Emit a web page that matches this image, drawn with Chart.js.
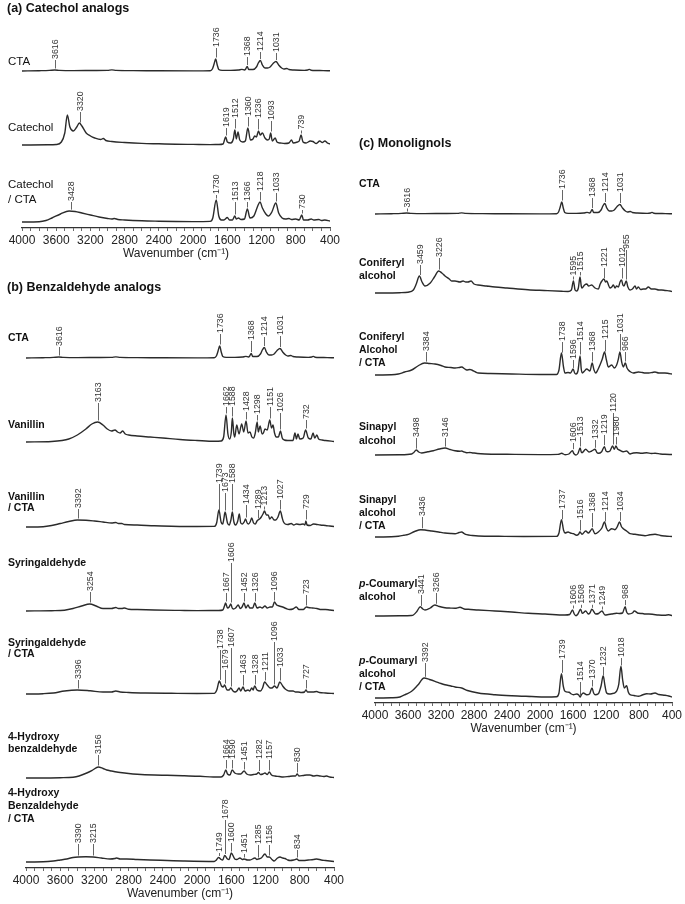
<!DOCTYPE html>
<html>
<head>
<meta charset="utf-8">
<script src="https://cdn.jsdelivr.net/npm/chart.js@4.4.1/dist/chart.umd.min.js"></script>
<style>
  html, body { margin: 0; padding: 0; background: #fff; }
  body { position: relative; width: 685px; height: 904px; overflow: hidden; }
  canvas { position: absolute; }
</style>
</head>
<body>
<canvas id="panelA" width="345" height="262" style="left:0;top:0"></canvas>
<canvas id="panelB" width="345" height="640" style="left:0;top:262px"></canvas>
<canvas id="panelC" width="340" height="612" style="left:345px;top:125px"></canvas>
<script>
// FTIR spectra, [wavenumber, absorbance above own baseline]
const wavenumberTicks = [4000, 3600, 3200, 2800, 2400, 2000, 1600, 1200, 800, 400];

const cta = [[4000,0],[3800,0.3],[3680,0.6],[3616,1],[3560,0.6],[3400,0.4],[3150,0.5],[3000,0.6],[2950,1.1],[2900,0.6],[2700,0.4],[2400,0.2],[2000,0.1],[1800,0.3],[1775,2],[1755,7],[1736,12],[1718,6],[1700,1.5],[1660,0.6],[1560,0.6],[1470,1],[1430,1.6],[1400,1],[1385,2],[1368,4.5],[1350,1.5],[1300,1.5],[1260,4],[1238,8],[1214,10.5],[1190,6],[1160,3],[1130,3],[1100,4],[1065,7.5],[1031,9.5],[1000,6],[965,3],[940,2],[905,2.5],[880,1.5],[820,1],[700,0.6],[660,1],[640,1.6],[620,0.8],[560,0.5],[480,0.4],[400,0.2]];
const ctaPeaks = [3616, 1736, 1368, 1214, 1031];

const catechol = [[4000,0],[3700,0.2],[3600,0.5],[3540,3],[3500,12],[3470,30],[3440,18],[3400,14],[3360,18],[3330,22],[3300,19],[3250,12],[3200,9],[3150,7],[3080,5.5],[3050,6.5],[3020,4.5],[2950,3.5],[2800,2.5],[2600,1.6],[2400,1.2],[2200,0.8],[2000,0.6],[1800,0.4],[1700,0.5],[1650,1],[1619,8],[1600,3],[1560,2],[1530,6],[1512,15],[1495,6],[1475,13],[1455,5],[1420,3],[1390,4],[1360,17],[1330,5],[1300,6],[1280,9],[1260,8],[1236,14],[1215,10],[1190,12],[1160,7],[1130,5],[1110,6],[1093,12],[1075,4],[1040,7],[1020,3],[980,2],[930,1.5],[880,2],[850,5],[830,2],[780,3],[760,4],[739,10],[715,3],[680,2],[630,4],[600,3.5],[560,1.5],[520,4],[490,2.5],[460,4],[430,2],[400,1]];
const catecholPeaks = [3320, 1619, 1512, 1360, 1236, 1093, 739];

const catecholCta = [[4000,0],[3800,0.3],[3720,1.5],[3650,4],[3550,8],[3450,11],[3380,10.5],[3300,9],[3200,7],[3100,5],[3000,3.5],[2950,3],[2920,3.5],[2880,2.5],[2800,2],[2600,1.2],[2400,0.8],[2200,0.5],[2000,0.4],[1800,0.6],[1770,4],[1730,22],[1700,6],[1670,2],[1640,2],[1600,4.5],[1575,2],[1540,2],[1513,6],[1495,3],[1470,4],[1440,2.5],[1400,3],[1366,13],[1335,4],[1290,6],[1240,17],[1218,20],[1190,14],[1150,8],[1120,6],[1080,10],[1033,19],[1000,9],[960,4],[920,3],[880,3.5],[850,2.5],[800,3],[760,2],[730,7],[710,2],[660,2],[620,3],[590,2],[530,2.5],[500,1.5],[460,2],[400,1]];
const catecholCtaPeaks = [3428, 1730, 1513, 1366, 1218, 1033, 730];

const vanillin = [[4000,0],[3700,0.5],[3580,1.5],[3500,3],[3400,7],[3300,13],[3230,18],[3163,20],[3100,17],[3050,13],[3000,11],[2960,12],[2930,10],[2900,9],[2870,11],[2840,8],[2800,7],[2700,6],[2550,5],[2400,4],[2200,2.5],[2000,1.5],[1800,0.7],[1720,1],[1690,5],[1662,27],[1640,8],[1620,3],[1600,10],[1588,24],[1570,8],[1560,5],[1537,17],[1510,8],[1479,18],[1455,10],[1428,21],[1405,9],[1382,10],[1360,5],[1340,4],[1320,9],[1298,20],[1285,10],[1264,16],[1240,8],[1225,9],[1207,13],[1180,12],[1151,22],[1130,14],[1113,17],[1095,9],[1075,5],[1050,5],[1026,11],[1005,4],[980,2],[940,1.5],[880,1.5],[856,9],[840,3],[821,8],[800,3],[760,4],[732,12],[700,4],[670,3],[645,9],[625,4],[600,7],[580,3],[540,2],[500,1.5],[400,0.5]];
const vanillinPeaks = [3163, 1662, 1588, 1428, 1298, 1151, 1026, 732];

const vanillinCta = [[4000,0],[3800,0.3],[3700,1.5],[3600,3.5],[3500,5.5],[3400,7],[3300,6.8],[3200,6],[3100,5],[3000,4],[2950,4.5],[2920,3.5],[2880,3.5],[2850,2.5],[2700,2],[2500,1.2],[2300,0.8],[2000,0.5],[1800,0.6],[1772,4],[1745,17],[1720,5],[1700,3],[1688,8],[1673,15],[1645,4],[1625,2],[1605,7],[1588,15],[1570,5],[1550,2],[1525,6],[1507,13],[1490,4],[1470,3],[1450,5],[1434,8],[1415,4],[1400,3],[1380,5],[1362,9],[1340,4],[1320,3],[1300,6],[1289,7],[1270,8],[1250,10],[1230,13],[1213,16],[1190,12],[1170,12],[1150,8],[1128,10],[1100,7],[1080,7],[1055,10],[1027,16],[1005,9],[990,5],[970,3],[940,2.5],[900,3.5],[870,2],[840,3],[800,2.5],[760,3],[740,2],[729,6],[715,2],[680,1.5],[640,3],[600,2.5],[560,2],[500,1.5],[450,1],[400,0.5]];
const vanillinCtaPeaks = [3392, 1739, 1673, 1588, 1434, 1289, 1213, 1027, 729];

const syringaldehyde = [[4000,0],[3700,0.3],[3550,0.8],[3450,2.5],[3350,5],[3254,7],[3180,5],[3100,2.5],[3000,2.5],[2950,3.5],[2920,2.5],[2880,2.5],[2850,3],[2800,1.8],[2700,1.5],[2500,1],[2200,0.6],[2000,0.4],[1750,0.5],[1700,1],[1680,5],[1667,8],[1645,3],[1625,4],[1606,7],[1590,3],[1575,2],[1550,3],[1520,6],[1495,2.5],[1475,4],[1452,8],[1430,3],[1405,6],[1385,3],[1350,3],[1326,8],[1300,3],[1265,4],[1240,3],[1207,5],[1180,3],[1148,4],[1120,4],[1096,9],[1070,6],[1040,5],[1000,4],[960,2.5],[920,1.5],[880,2],[840,4],[810,1.5],[760,1.5],[723,4],[700,3.5],[650,3],[600,2.5],[550,1.5],[500,1.5],[450,1],[400,0.5]];
const syringaldehydePeaks = [3254, 1667, 1606, 1452, 1326, 1096, 723];

const syringaldehydeCta = [[4000,0],[3800,0.3],[3680,1],[3550,3],[3400,4],[3250,3.2],[3100,2],[3000,2],[2950,3],[2900,2],[2800,1.5],[2600,1],[2300,0.7],[2000,0.5],[1800,0.6],[1770,4],[1740,13],[1715,8],[1694,7],[1679,9],[1650,4],[1625,4],[1607,6],[1580,3],[1557,2],[1535,3],[1510,6],[1490,3],[1463,7],[1440,3],[1405,4],[1385,3],[1362,6],[1345,4],[1328,8],[1300,4],[1260,3],[1235,6],[1211,12],[1180,9],[1148,6],[1125,6],[1096,8],[1066,6],[1033,12],[1000,8],[970,5],[953,4],[920,3],[878,3],[850,2],[820,2],[780,1.5],[745,2],[727,4],[710,2],[680,2],[645,2],[602,2.5],[570,1.5],[500,1],[400,0.5]];
const syringaldehydeCtaPeaks = [3396, 1738, 1679, 1607, 1463, 1328, 1211, 1096, 1033, 727];

const hydroxyBenz = [[4000,0],[3600,0.3],[3450,0.8],[3380,2],[3290,5],[3220,8],[3156,11],[3100,9.5],[3057,8],[3000,7],[2940,6],[2900,5.5],[2800,4.5],[2700,3.8],[2500,3],[2350,2.7],[2150,2.2],[1966,1.7],[1810,1],[1720,1],[1690,3],[1664,8],[1645,4],[1616,3],[1590,8],[1560,5],[1520,4],[1490,4],[1451,7],[1420,4],[1380,3],[1340,3.5],[1303,4],[1282,5.5],[1260,3.5],[1230,4],[1207,5],[1180,3.5],[1157,6],[1130,3],[1090,2],[1040,1.5],[996,1],[930,1.5],[880,2],[850,2],[830,4],[810,2],[760,2.5],[720,3],[680,3],[640,2],[600,2.5],[564,2],[520,1.5],[486,2],[450,1],[400,0.5]];
const hydroxyBenzPeaks = [3156, 1664, 1590, 1451, 1282, 1157, 830];

const hydroxyBenzCta = [[4000,0],[3800,0.2],[3680,1],[3600,2],[3524,3],[3450,4.5],[3390,5],[3300,5.2],[3215,5],[3120,4],[3018,3],[2960,3.5],[2940,4],[2900,3],[2823,3],[2700,2.5],[2551,2],[2350,1.5],[2162,1],[1800,0.5],[1780,1.5],[1749,4.5],[1720,2.5],[1701,2],[1678,6.5],[1645,3],[1627,2.5],[1600,9],[1560,3],[1537,2.5],[1499,4],[1470,2.5],[1451,3],[1410,2],[1382,2],[1324,4],[1300,2.5],[1285,3],[1250,4],[1207,8],[1180,5],[1156,5],[1125,2.5],[1101,1],[1060,4],[1031,5],[1000,4],[973,3.5],[940,2],[914,1.5],[870,2],[834,3],[810,1.5],[760,1.5],[700,2],[640,2.5],[602,3],[550,2],[500,1.5],[450,1],[400,0.5]];
const hydroxyBenzCtaPeaks = [3390, 3215, 1749, 1678, 1600, 1451, 1285, 1156, 834];

const coniferyl = [[4000,0],[3700,0.3],[3600,0.8],[3535,3],[3500,9],[3462,17],[3430,11],[3394,7],[3330,10],[3280,16],[3228,22],[3190,20],[3151,17],[3100,14],[3071,12],[3030,12],[2970,11],[2933,12],[2900,11],[2873,11],[2836,12],[2800,9],[2752,8],[2650,7],[2545,6],[2400,5],[2145,3.3],[1950,2.5],[1737,1.7],[1660,1.5],[1620,3],[1595,12],[1575,3],[1556,2],[1535,5],[1515,16],[1500,7],[1491,5],[1460,8],[1434,9],[1410,7],[1374,8],[1333,5],[1293,4],[1270,9],[1250,12],[1225,14],[1205,11],[1190,12],[1170,8],[1152,5],[1130,6],[1111,8],[1090,5],[1071,7],[1050,6],[1030,11],[1012,13],[995,8],[982,7],[955,12],[935,6],[909,3],[880,4],[848,7],[830,4],[808,6],[780,3.5],[747,4],[720,4],[687,6],[650,4],[606,4],[560,3],[525,3],[480,2.5],[424,2],[400,1.5]];
const coniferylPeaks = [3459, 3226, 1595, 1515, 1221, 1012, 955];

const coniferylCta = [[4000,0],[3800,0.2],[3717,1],[3640,3],[3556,5],[3480,9],[3400,12],[3340,11.5],[3273,11],[3200,9.5],[3152,8],[3080,7.5],[3030,7],[2980,7.5],[2949,8],[2910,6],[2889,5],[2850,5.5],[2828,5],[2780,3],[2748,2],[2600,1.5],[2343,1],[2000,0.5],[1800,0.5],[1770,5],[1740,22],[1715,8],[1697,2],[1660,2.5],[1630,2],[1598,6],[1580,2],[1564,1],[1540,4],[1514,19],[1500,6],[1487,2],[1460,4],[1434,6],[1394,4],[1368,12],[1345,5],[1325,2],[1300,5],[1273,10],[1245,16],[1218,23],[1195,15],[1172,8],[1131,10],[1099,7],[1071,10],[1050,16],[1031,23],[1010,13],[990,8],[966,12],[945,7],[929,5],[900,3],[869,2],[808,3],[760,2.5],[727,2],[680,2],[640,2.5],[606,3],[560,2],[485,2],[440,1.5],[400,1]];
const coniferylCtaPeaks = [3384, 1738, 1596, 1514, 1368, 1215, 1031, 966];

const sinapyl = [[4000,0],[3700,0.2],[3556,1],[3530,2.5],[3500,5],[3470,3],[3434,2],[3360,3.2],[3293,4.3],[3220,6],[3150,7],[3090,5.5],[3030,4.3],[2970,3.8],[2949,4],[2920,3],[2889,2.3],[2850,2.5],[2828,2.3],[2760,1.5],[2667,1],[2400,0.7],[2000,0.4],[1780,0.6],[1737,1.7],[1697,0.3],[1650,1],[1606,4.3],[1590,1.5],[1564,0],[1540,1.5],[1513,7],[1500,3],[1491,2.3],[1446,5.7],[1406,3],[1374,4],[1332,5.7],[1310,2.5],[1293,1.7],[1253,3.3],[1219,8.3],[1200,4],[1184,3.3],[1152,4],[1120,9],[1099,5.7],[1080,9],[1060,6],[1038,5],[990,3.3],[950,4],[909,1],[870,2],[828,2.3],[768,1.7],[707,2.3],[650,1.5],[606,1.7],[540,1],[485,0.7],[400,0.5]];
const sinapylPeaks = [3498, 3146, 1606, 1513, 1332, 1219, 1120, 1080];

const sinapylCta = [[4000,0],[3800,0.2],[3717,0.7],[3650,1.7],[3596,2.7],[3520,5.5],[3445,7.3],[3380,6.8],[3313,6],[3230,5],[3152,4],[3080,3.5],[3030,3.3],[2980,4.5],[2949,5],[2920,3.5],[2889,2.3],[2820,1.5],[2748,1],[2500,0.7],[2200,0.5],[1800,0.6],[1770,4],[1740,17.3],[1715,7],[1697,4],[1660,5],[1630,4],[1596,3.3],[1556,1.7],[1530,3],[1516,5],[1491,2.7],[1446,6],[1414,4],[1390,6],[1368,8.3],[1333,3.3],[1293,5],[1250,9],[1218,15],[1195,9],[1172,6],[1131,8.3],[1091,7.3],[1065,10],[1036,15],[1010,10],[990,8.3],[950,6],[909,3.3],[848,2.7],[790,2],[727,1.3],[680,2],[606,2.7],[540,1.5],[485,1],[400,0.5]];
const sinapylCtaPeaks = [3436, 1737, 1516, 1368, 1214, 1034];

const coumaryl = [[4000,0],[3700,0.2],[3560,0.5],[3535,1],[3495,4.3],[3450,9.3],[3420,7],[3394,6],[3330,8],[3275,11],[3220,9.5],[3152,8.3],[3080,7.9],[3030,7.7],[2970,8.7],[2920,7],[2869,6.7],[2748,6],[2545,5],[2343,4],[2141,2.7],[1939,2],[1697,1],[1640,1.5],[1606,6],[1585,2],[1564,0.3],[1540,2],[1508,6.7],[1487,2.7],[1446,5],[1414,2],[1395,3],[1371,6.7],[1325,2],[1290,2.5],[1249,5],[1212,1],[1170,1.5],[1131,2],[1071,2.7],[1040,2.5],[1000,3],[968,9.3],[950,4],[929,2],[880,3],[857,5],[808,2.7],[760,2.5],[727,2],[680,2],[620,1.5],[566,1],[485,0.7],[440,1.2],[400,0.5]];
const coumarylPeaks = [3441, 3266, 1606, 1508, 1371, 1249, 968];

const coumarylCta = [[4000,0],[3800,0.2],[3697,1],[3620,4],[3556,6.7],[3480,13],[3405,20],[3340,18.5],[3273,16.7],[3200,14.5],[3152,13.3],[3080,12],[3030,11],[2949,10],[2880,7.5],[2748,5],[2545,3.3],[2343,2.3],[2100,1.5],[1939,1],[1800,1.2],[1770,5],[1740,24.3],[1718,12],[1697,6.7],[1648,5.7],[1620,4],[1596,3.3],[1556,4],[1530,3],[1514,1],[1500,3],[1475,5],[1434,3.3],[1400,4],[1370,10],[1350,5],[1333,3.3],[1293,4.3],[1260,12],[1234,22.3],[1212,12],[1192,5],[1160,4],[1131,4.3],[1080,6],[1045,14],[1019,31.7],[998,18],[978,10],[950,12.3],[930,6],[909,3.3],[860,2.5],[808,1.7],[760,3],[707,4.3],[660,4],[606,5],[560,3.5],[485,2.7],[440,2],[400,1]];
const coumarylCtaPeaks = [3392, 1739, 1514, 1370, 1232, 1018];

const FONT = '"Liberation Sans", Arial, Helvetica, sans-serif';
const AXIS_H = 34;

// layout: offset = baseline height above the x axis (px), nameDy = first name line above baseline,
// tops = height of each peak marker's upper end above baseline
const panels = {
  panelA: {
    title: '(a) Catechol analogs', titlePos: [7, 9], nameX: 8,
    nameFont: `11.5px ${FONT}`,
    pad: { top: 0, bottom: 0, left: 22, right: 15 },
    rows: [
      { name: ['CTA'], spectrum: cta, peaks: ctaPeaks, offset: 157, nameDy: 9, nameGap: 15, tops: [11, 23, 14, 19, 18] },
      { name: ['Catechol'], spectrum: catechol, peaks: catecholPeaks, offset: 83, nameDy: 17, nameGap: 15, tops: [33, 17, 26, 28, 26, 24, 14] },
      { name: ['Catechol', '/ CTA'], spectrum: catecholCta, peaks: catecholCtaPeaks, offset: 6, nameDy: 37, nameGap: 15, tops: [20, 27, 20, 20, 30, 29, 12] },
    ],
  },
  panelB: {
    title: '(b) Benzaldehyde analogs', titlePos: [7, 26], nameX: 8,
    nameFont: `bold 10.5px ${FONT}`,
    pad: { top: 0, bottom: 0, left: 26, right: 11 },
    rows: [
      { name: ['CTA'], spectrum: cta, peaks: ctaPeaks, offset: 510, nameDy: 20, nameGap: 12, tops: [11, 24, 17, 21, 22] },
      { name: ['Vanillin'], spectrum: vanillin, peaks: vanillinPeaks, offset: 426, nameDy: 17, nameGap: 12, tops: [39, 35, 35, 30, 27, 35, 29, 22] },
      { name: ['Vanillin', '/ CTA'], spectrum: vanillinCta, peaks: vanillinCtaPeaks, offset: 341, nameDy: 30, nameGap: 11, tops: [18, 43, 34, 43, 22, 17, 19, 27, 17] },
      { name: ['Syringaldehyde'], spectrum: syringaldehyde, peaks: syringaldehydePeaks, offset: 257, nameDy: 48, nameGap: 12, tops: [19, 18, 48, 18, 18, 19, 16] },
      { name: ['Syringaldehyde', '/ CTA'], spectrum: syringaldehydeCta, peaks: syringaldehydeCtaPeaks, offset: 174, nameDy: 51, nameGap: 11, tops: [14, 44, 24, 46, 19, 19, 22, 52, 26, 14] },
      { name: ['4-Hydroxy', 'benzaldehyde'], spectrum: hydroxyBenz, peaks: hydroxyBenzPeaks, offset: 90, nameDy: 41, nameGap: 12, tops: [23, 18, 18, 16, 18, 18, 15] },
      { name: ['4-Hydroxy', 'Benzaldehyde', '/ CTA'], spectrum: hydroxyBenzCta, peaks: hydroxyBenzCtaPeaks, offset: 6, nameDy: 69, nameGap: 13, tops: [18, 18, 8, 42, 19, 8, 17, 17, 12] },
    ],
  },
  panelC: {
    title: '(c) Monolignols', titlePos: [14, 19], nameX: 14,
    nameFont: `bold 10.5px ${FONT}`,
    pad: { top: 0, bottom: 0, left: 30, right: 13 },
    rows: [
      { name: ['CTA'], spectrum: cta, peaks: ctaPeaks, offset: 489, nameDy: 30, nameGap: 13, tops: [5, 24, 16, 21, 21] },
      { name: ['Coniferyl', 'alcohol'], spectrum: coniferyl, peaks: coniferylPeaks, offset: 410, nameDy: 30, nameGap: 13, tops: [28, 35, 16, 21, 25, 25, 43] },
      { name: ['Coniferyl', 'Alcohol', '/ CTA'], spectrum: coniferylCta, peaks: coniferylCtaPeaks, offset: 328, nameDy: 38, nameGap: 13, tops: [23, 33, 15, 33, 23, 35, 41, 23] },
      { name: ['Sinapyl', 'alcohol'], spectrum: sinapyl, peaks: sinapylPeaks, offset: 248, nameDy: 28, nameGap: 14, tops: [17, 17, 12, 18, 15, 20, 42, 18], printed: { 1080: '1980' } },
      { name: ['Sinapyl', 'alcohol', '/ CTA'], spectrum: sinapylCta, peaks: sinapylCtaPeaks, offset: 166, nameDy: 37, nameGap: 13, tops: [20, 27, 17, 24, 25, 25] },
      { name: ['p-Coumaryl', 'alcohol'], spectrum: coumaryl, peaks: coumarylPeaks, offset: 87, nameDy: 32, nameGap: 13, tops: [21, 23, 10, 10, 10, 9, 16] },
      { name: ['p-Coumaryl', 'alcohol', '/ CTA'], spectrum: coumarylCta, peaks: coumarylCtaPeaks, offset: 5, nameDy: 37, nameGap: 13, tops: [35, 38, 16, 18, 31, 40] },
    ],
  },
};

function valueAt(spectrum, wn) {
  for (let i = 1; i < spectrum.length; i++) {
    const [x0, y0] = spectrum[i - 1];
    const [x1, y1] = spectrum[i];
    if (wn <= x0 && wn >= x1) return y0 + (y1 - y0) * (x0 - wn) / (x0 - x1);
  }
  return 0;
}

function drawName(ctx, line, x, y, font) {
  ctx.fillStyle = '#111';
  ctx.textAlign = 'left';
  ctx.textBaseline = 'middle';
  if (line.startsWith('p-')) {
    ctx.font = `italic ${font}`;
    ctx.fillText('p', x, y);
    const w = ctx.measureText('p').width;
    ctx.font = font;
    ctx.fillText(line.slice(1), x + w, y);
  } else {
    ctx.font = font;
    ctx.fillText(line, x, y);
  }
}

function labelPlugin(panel) {
  return {
    id: 'spectrumLabels',
    afterDraw(chart) {
      const { ctx } = chart;
      const xs = chart.scales.x;
      const ys = chart.scales.y;
      ctx.save();
      ctx.fillStyle = '#111';
      ctx.font = `bold 12.5px ${FONT}`;
      ctx.textAlign = 'left';
      ctx.textBaseline = 'middle';
      ctx.fillText(panel.title, panel.titlePos[0], panel.titlePos[1]);

      panel.rows.forEach(row => {
        const y0 = ys.getPixelForValue(row.offset + row.nameDy);
        row.name.forEach((line, i) => drawName(ctx, line, panel.nameX, y0 + i * row.nameGap, panel.nameFont));

        row.peaks.forEach((wn, i) => {
          const px = Math.round(xs.getPixelForValue(wn)) + 0.5;
          const bottom = ys.getPixelForValue(row.offset + valueAt(row.spectrum, wn) + 1.5);
          let top = ys.getPixelForValue(row.offset + row.tops[i]);
          if (top > bottom - 3) top = bottom - 3;
          ctx.strokeStyle = '#555';
          ctx.lineWidth = 0.9;
          ctx.beginPath();
          ctx.moveTo(px, bottom);
          ctx.lineTo(px, top);
          ctx.stroke();

          ctx.save();
          ctx.translate(px, top - 1);
          ctx.rotate(-Math.PI / 2);
          ctx.font = `8.8px ${FONT}`;
          ctx.fillStyle = '#333';
          ctx.textAlign = 'left';
          ctx.textBaseline = 'middle';
          const text = (row.printed && row.printed[wn]) || String(wn);
          ctx.fillText(text, 0, 0);
          ctx.restore();
        });
      });
      ctx.restore();
    },
  };
}

function buildPanel(id) {
  const panel = panels[id];
  const canvas = document.getElementById(id);
  const plotH = canvas.height - panel.pad.top - panel.pad.bottom - AXIS_H;

  const datasets = panel.rows.map(row => ({
    data: row.spectrum.map(([x, v]) => ({ x, y: v + row.offset })),
    borderColor: '#2b2b2b',
    borderWidth: 1.4,
    pointRadius: 0,
    fill: false,
    cubicInterpolationMode: 'monotone',
  }));

  new Chart(canvas, {
    type: 'line',
    data: { datasets },
    options: {
      responsive: false,
      animation: false,
      devicePixelRatio: 1,
      layout: { padding: panel.pad },
      plugins: { legend: { display: false }, tooltip: { enabled: false } },
      scales: {
        x: {
          type: 'linear',
          min: 400,
          max: 4000,
          reverse: true,
          afterFit(scale) {
            scale.height = AXIS_H;
            scale.paddingLeft = 0;
            scale.paddingRight = 0;
          },
          ticks: {
            stepSize: 100,
            autoSkip: false,
            maxRotation: 0,
            padding: 2,
            color: '#222',
            font: { family: FONT, size: 12 },
            callback: v => (wavenumberTicks.includes(Math.round(v)) ? String(Math.round(v)) : ''),
          },
          grid: { display: true, drawOnChartArea: false, drawTicks: true, tickLength: 3, color: '#444', lineWidth: 0.8 },
          border: { display: true, color: '#333', width: 1.2 },
          title: {
            display: true,
            text: 'Wavenumber (cm\u207B\u00B9)',
            color: '#222',
            font: { family: FONT, size: 12 },
            padding: { top: 0, bottom: 1 },
          },
        },
        y: { type: 'linear', display: false, min: 0, max: plotH },
      },
    },
    plugins: [labelPlugin(panel)],
  });
}

['panelA', 'panelB', 'panelC'].forEach(buildPanel);
</script>
</body>
</html>
